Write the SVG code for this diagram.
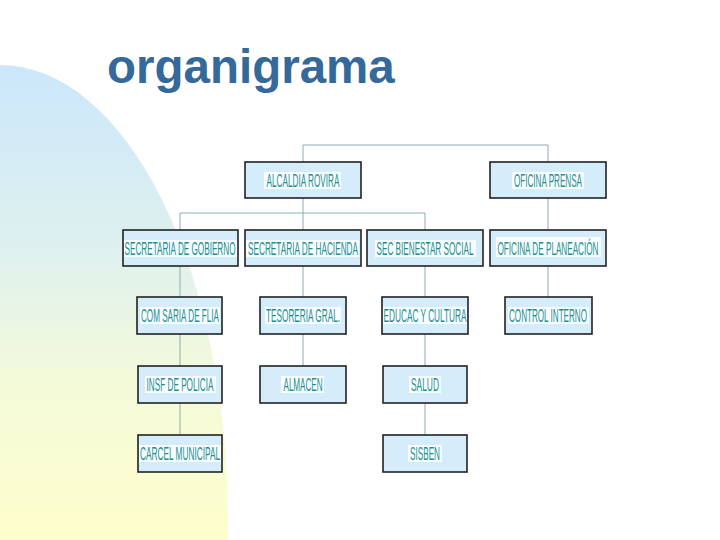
<svg xmlns="http://www.w3.org/2000/svg" width="720" height="540" viewBox="0 0 720 540">
<defs>
<linearGradient id="bg" gradientUnits="userSpaceOnUse" x1="0" y1="65" x2="0" y2="540">
<stop offset="0" stop-color="#cbe7fb"/>
<stop offset="0.4" stop-color="#dff1ee"/>
<stop offset="0.65" stop-color="#f3fadb"/>
<stop offset="1" stop-color="#fefecb"/>
</linearGradient>
<style>
.box{fill:#d5ecfb;stroke:#222;stroke-width:1.6}
.hl{fill:#fff;opacity:0.85}
.lbl{font-family:"Liberation Sans Narrow","Liberation Sans",Arial,sans-serif;font-size:19px;fill:#1b8f90;text-anchor:middle}
.ln{stroke:#8aaeb0;stroke-width:1;fill:none}
</style>
</defs>
<rect width="720" height="540" fill="#fff"/>
<ellipse cx="0" cy="520" rx="228" ry="455" fill="url(#bg)"/>
<text x="107" y="83" font-family="Liberation Sans,Arial,sans-serif" font-weight="bold" font-size="47.5" fill="#35699a">organigrama</text>

<g id="connectors">
<path class="ln" d="M303 162 V145 H548 V162"/>
<path class="ln" d="M303 198 V230 M180 230 V213 H425 V230"/>
<path class="ln" d="M548 198 V230 M548 266 V297"/>
<path class="ln" d="M180 266 V297 M180 334 V366 M180 403 V435"/>
<path class="ln" d="M303 266 V297 M303 334 V366"/>
<path class="ln" d="M425 266 V297 M425 334 V366 M425 403 V435"/>
</g>

<g id="alcaldia"><rect class="box" x="245" y="162" width="116" height="36"/><rect class="hl" x="264" y="172" width="77" height="17"/><text class="lbl" x="303" y="187" textLength="73" lengthAdjust="spacingAndGlyphs">ALCALDIA ROVIRA</text></g>
<g id="prensa"><rect class="box" x="490" y="162" width="116" height="36"/><rect class="hl" x="512" y="172" width="72" height="17"/><text class="lbl" x="548" y="187" textLength="68" lengthAdjust="spacingAndGlyphs">OFICINA PRENSA</text></g>

<g id="gobierno"><rect class="box" x="123" y="230" width="115" height="36"/><rect class="hl" x="124" y="240" width="113" height="17"/><text class="lbl" x="180" y="255" textLength="111" lengthAdjust="spacingAndGlyphs">SECRETARIA DE GOBIERNO</text></g>
<g id="hacienda"><rect class="box" x="245" y="230" width="116" height="36"/><rect class="hl" x="246" y="240" width="113" height="17"/><text class="lbl" x="303" y="255" textLength="110" lengthAdjust="spacingAndGlyphs">SECRETARIA DE HACIENDA</text></g>
<g id="bienestar"><rect class="box" x="367" y="230" width="116" height="36"/><rect class="hl" x="375" y="240" width="101" height="17"/><text class="lbl" x="425" y="255" textLength="97" lengthAdjust="spacingAndGlyphs">SEC BIENESTAR SOCIAL</text></g>
<g id="planeacion"><rect class="box" x="490" y="230" width="116" height="36"/><rect class="hl" x="496" y="237" width="105" height="20"/><text class="lbl" x="548" y="255" textLength="101" lengthAdjust="spacingAndGlyphs">OFICINA DE PLANEACIÓN</text></g>

<g id="comisaria"><rect class="box" x="137" y="297" width="85" height="37"/><rect class="hl" x="140" y="307" width="80" height="17"/><text class="lbl" x="180" y="322" textLength="78" lengthAdjust="spacingAndGlyphs">COM SARIA DE FLIA</text></g>
<g id="tesoreria"><rect class="box" x="260" y="297" width="86" height="37"/><rect class="hl" x="265" y="307" width="76" height="17"/><text class="lbl" x="303" y="322" textLength="74" lengthAdjust="spacingAndGlyphs">TESORERIA GRAL.</text></g>
<g id="educacion"><rect class="box" x="382" y="297" width="86" height="37"/><rect class="hl" x="383" y="307" width="84" height="17"/><text class="lbl" x="425" y="322" textLength="83" lengthAdjust="spacingAndGlyphs">EDUCAC Y CULTURA</text></g>
<g id="control"><rect class="box" x="505" y="297" width="87" height="37"/><rect class="hl" x="508" y="307" width="81" height="17"/><text class="lbl" x="548" y="322" textLength="78" lengthAdjust="spacingAndGlyphs">CONTROL INTERNO</text></g>

<g id="policia"><rect class="box" x="138" y="366" width="84" height="37"/><rect class="hl" x="145" y="376" width="71" height="17"/><text class="lbl" x="180" y="391" textLength="67" lengthAdjust="spacingAndGlyphs">INSF DE POLICIA</text></g>
<g id="almacen"><rect class="box" x="260" y="366" width="86" height="37"/><rect class="hl" x="281" y="376" width="43" height="17"/><text class="lbl" x="303" y="391" textLength="39" lengthAdjust="spacingAndGlyphs">ALMACEN</text></g>
<g id="salud"><rect class="box" x="383" y="366" width="84" height="37"/><rect class="hl" x="409" y="376" width="32" height="17"/><text class="lbl" x="425" y="391" textLength="28" lengthAdjust="spacingAndGlyphs">SALUD</text></g>

<g id="carcel"><rect class="box" x="138" y="435" width="84" height="37"/><rect class="hl" x="139" y="445" width="82" height="17"/><text class="lbl" x="180" y="460" textLength="80" lengthAdjust="spacingAndGlyphs">CARCEL MUNICIPAL</text></g>
<g id="sisben"><rect class="box" x="383" y="435" width="84" height="37"/><rect class="hl" x="408" y="445" width="34" height="17"/><text class="lbl" x="425" y="460" textLength="30" lengthAdjust="spacingAndGlyphs">SISBEN</text></g>
</svg>
